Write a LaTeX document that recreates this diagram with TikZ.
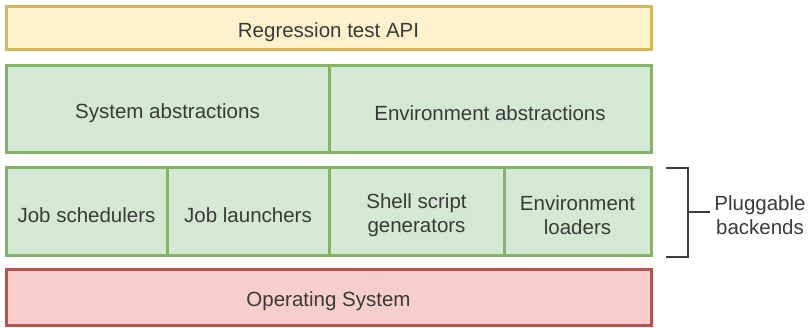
\documentclass[tikz,border=0pt]{standalone}
\usepackage{fontspec}
\setmainfont{Liberation Sans}
\usepackage{tikz}
\definecolor{apifill}{HTML}{FFF2CC}
\definecolor{apiline}{HTML}{D6B656}
\definecolor{absfill}{HTML}{D5E8D4}
\definecolor{absline}{HTML}{82B366}
\definecolor{osfill}{HTML}{F8CECC}
\definecolor{osline}{HTML}{B85450}
\definecolor{txt}{HTML}{3A3A3A}

\begin{document}
\begin{tikzpicture}[x=1pt, y=-1pt, line width=3pt,
  lbl/.style={text=txt, align=center, yshift=-3.5pt, font=\fontsize{20.5pt}{24pt}\selectfont}]
\useasboundingbox (0,0) rectangle (809,328);
% layers
\draw [fill=apifill, draw=apiline] (6,7) rectangle (651,50);
\draw [fill=absfill, draw=absline] (6,66) rectangle (329,153);
\draw [fill=absfill, draw=absline] (329,66) rectangle (651,153);
\draw [fill=absfill, draw=absline] (6,168) rectangle (167,256);
\draw [fill=absfill, draw=absline] (167,168) rectangle (329,256);
\draw [fill=absfill, draw=absline] (329,168) rectangle (504,256);
\draw [fill=absfill, draw=absline] (504,168) rectangle (651,256);
\draw [fill=osfill, draw=osline] (6,270) rectangle (651,326);
% labels
\node [lbl] (api) at (328.5, 29) {Regression test API};
\node [lbl] (sysabs) at (167.5, 110) {System abstractions};
\node [lbl] (envabs) at (490, 110) {Environment abstractions};
\node [lbl] (sched) at (86.5, 212) {Job schedulers};
\node [lbl] (launch) at (248, 212) {Job launchers};
\node [lbl] (shell) at (416.5, 212) {Shell script\\generators};
\node [lbl] (envload) at (577.5, 212) {Environment\\loaders};
\node [lbl] (os) at (328.5, 298) {Operating System};
% bracket
\node [lbl] (plug) at (760, 212) {Pluggable\\backends};
\coordinate (brtop) at (666,168);
\coordinate (brbot) at (666,257);
\coordinate (brmid) at (688,212);
\coordinate (tick) at (710,212);
\draw [draw=txt, line width=2.5pt] (brtop) -- (brtop -| brmid) -- (brbot -| brmid) -- (brbot);
\draw [draw=txt, line width=2.5pt] (brmid) -- (tick);
\end{tikzpicture}
\end{document}
